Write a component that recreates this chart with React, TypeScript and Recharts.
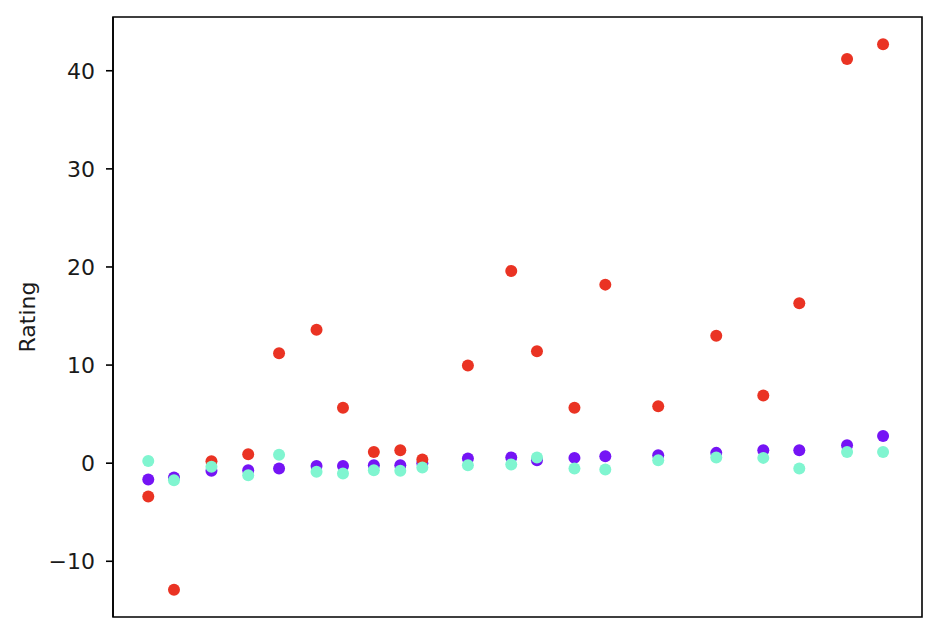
import { ScatterChart, Scatter, XAxis, YAxis, ReferenceArea } from "recharts";

// x position of each group (arbitrary units, 0..100)
const xPos = [0, 3.5, 8.6, 13.6, 17.8, 22.9, 26.5, 30.7, 34.3, 37.3, 43.5, 49.4, 52.9, 58.0, 62.2, 69.4, 77.3, 83.7, 88.6, 95.1, 100];

const purpleVals = [-1.66, -1.45, -0.78, -0.71, -0.54, -0.3, -0.3, -0.2, -0.2, 0.0, 0.47, 0.58, 0.3, 0.54, 0.71, 0.81, 1.05, 1.32, 1.32, 1.83, 2.77];
const redVals = [-3.4, -12.9, 0.2, 0.91, 11.2, 13.6, 5.65, 1.15, 1.32, 0.37, 9.95, 19.6, 11.4, 5.65, 18.2, 5.8, 13.0, 6.9, 16.3, 41.2, 42.7];
const tealVals = [0.23, -1.73, -0.37, -1.22, 0.85, -0.88, -1.05, -0.71, -0.78, -0.44, -0.2, -0.13, 0.58, -0.54, -0.64, 0.3, 0.58, 0.54, -0.54, 1.15, 1.15];

const yTicks = [-10, 0, 10, 20, 30, 40];
const yDomain: [number, number] = [-15.68, 45.48];
const xDomain: [number, number] = [-4.8, 105.3];

const toPoints = (vals: number[]) => xPos.map((x, i) => ({ x, y: vals[i] }));

const FONT = "'DejaVu Sans', sans-serif";

const dot = (color: string) => (props: any) => (
  <circle cx={props.cx} cy={props.cy} r={6} fill={color} />
);

export default function App() {
  return (
    <div>
      <style>{`body { margin: 0; }`}</style>
      <ScatterChart
        width={936}
        height={642}
        margin={{ top: 17, right: 14, bottom: 25, left: 0 }}
        style={{ background: "#fff" }}
      >
        <XAxis type="number" dataKey="x" domain={xDomain} allowDataOverflow hide />
        <YAxis
          type="number"
          dataKey="y"
          domain={yDomain}
          allowDataOverflow
          ticks={yTicks}
          width={113}
          tickSize={7}
          tickMargin={11}
          tickLine={{ stroke: "#000", strokeWidth: 1.6 }}
          axisLine={{ stroke: "#000", strokeWidth: 1.6 }}
          tick={{ fill: "#1a1a1a", fontSize: 22, fontFamily: FONT }}
          tickFormatter={(v: number) => String(v).replace("-", "\u2212")}
          label={{
            content: (p: any) => {
              const vb = p.viewBox || {};
              const cx = (vb.x ?? 0) + 27;
              const cy = (vb.y ?? 0) + (vb.height ?? 0) / 2;
              return (
                <text
                  x={cx}
                  y={cy}
                  transform={`rotate(-90 ${cx} ${cy})`}
                  textAnchor="middle"
                  dominantBaseline="central"
                  fontSize={22}
                  fontFamily={FONT}
                  fill="#1a1a1a"
                >
                  Rating
                </text>
              );
            },
          }}
        />
        {/* axes frame */}
        <ReferenceArea
          x1={xDomain[0]}
          x2={xDomain[1]}
          y1={yDomain[0]}
          y2={yDomain[1]}
          fill="none"
          fillOpacity={0}
          stroke="#000"
          strokeWidth={1.6}
          ifOverflow="visible"
        />
        <Scatter data={toPoints(purpleVals)} fill="#7514f5" shape={dot("#7514f5")} isAnimationActive={false} />
        <Scatter data={toPoints(redVals)} fill="#ea3323" shape={dot("#ea3323")} isAnimationActive={false} />
        <Scatter data={toPoints(tealVals)} fill="#80f5d0" shape={dot("#80f5d0")} isAnimationActive={false} />
      </ScatterChart>
    </div>
  );
}
